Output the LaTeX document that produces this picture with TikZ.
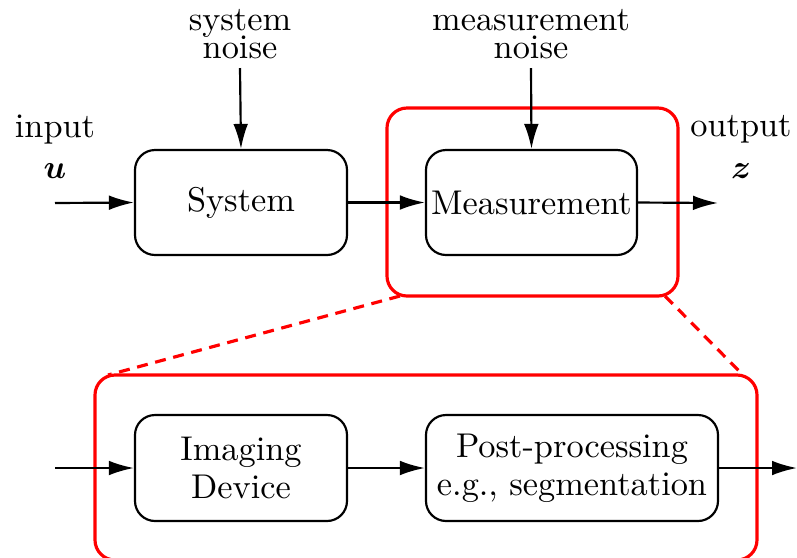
\documentclass[tikz,border=0pt]{standalone}
\usepackage{bm}
\usetikzlibrary{arrows.meta}
\begin{document}
\begin{tikzpicture}[x=0.3pt,y=-0.3pt,
  font=\fontsize{10.3}{12.4}\selectfont,
  blk/.style={draw=black,line width=0.65pt,rounded corners=6pt,inner sep=0pt,align=center},
  zoombox/.style={draw=red,line width=0.95pt,rounded corners=6pt,inner sep=0pt},
  conn/.style={line width=0.65pt,-{Latex[length=7.5pt,width=4.4pt]}},
  zoomline/.style={draw=red,line width=0.95pt,dash pattern=on 3.3pt off 2.3pt},
  lbl/.style={align=center,inner sep=0pt}]
\useasboundingbox (0,0) rectangle (797,557);
% red zoom boxes
\node[zoombox,minimum width=87.3pt,minimum height=56.4pt] (mz) at (532.5,202) {};
\node[zoombox,minimum width=198.6pt,minimum height=55.5pt] (bz) at (426,467.5) {};
% blocks
\node[blk,minimum width=63.6pt,minimum height=31.5pt] (sys) at (241,202.5) {System};
\node[blk,minimum width=63.3pt,minimum height=31.5pt] (meas) at (531.5,202.5) {Measurement};
\node[blk,minimum width=63.6pt,minimum height=31.8pt] (img) at (241,468) {Imaging\\[-1pt]Device};
\node[blk,minimum width=87.6pt,minimum height=31.8pt] (post) at (572,468) {Post-processing\\[-1pt]e.g., segmentation};
% labels
\node[lbl] (sn) at (240,34) {system\\[-3.8pt]noise};
\node[lbl] (mn) at (531,34) {measurement\\[-3.8pt]noise};
\node[lbl] (in) at (55,147) {input\\$\bm{u}$};
\node[lbl] (out) at (741,147) {output\\$\bm{z}$};
% connector ends
\coordinate (snA) at (240,68);
\coordinate (mnA) at (531,68);
\coordinate (inA) at (55,203);
\coordinate (outA) at (718,203);
\coordinate (in2) at (55,468);
\coordinate (out2) at (797,468);
\coordinate (d1a) at (400,296);
\coordinate (d1b) at (108,375);
\coordinate (d2a) at (665,296);
\coordinate (d2b) at (743,375);
% connectors
\draw[conn] (inA) -- (sys.west);
\draw[conn] (sys.east) -- (meas.west);
\draw[conn] (meas.east) -- (outA);
\draw[conn] (snA) -- (sys.north);
\draw[conn] (mnA) -- (meas.north);
\draw[conn] (in2) -- (img.west);
\draw[conn] (img.east) -- (post.west);
\draw[conn] (post.east) -- (out2);
% zoom lines
\draw[zoomline] (d1a) -- (d1b);
\draw[zoomline] (d2a) -- (d2b);
\end{tikzpicture}
\end{document}
